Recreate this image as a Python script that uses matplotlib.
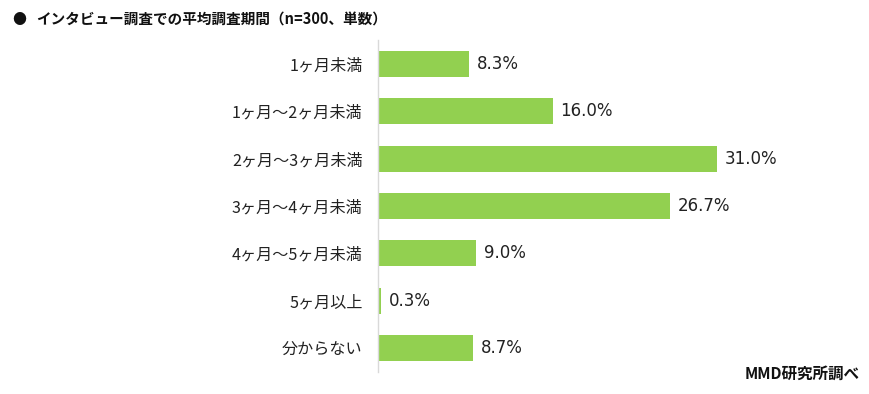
import matplotlib
matplotlib.use('Agg')
import matplotlib.pyplot as plt

plt.rcParams['font.family'] = ['Noto Sans CJK JP', 'DejaVu Sans']

categories = ['1ヶ月未満', '1ヶ月〜2ヶ月未満', '2ヶ月〜3ヶ月未満', '3ヶ月〜4ヶ月未満',
              '4ヶ月〜5ヶ月未満', '5ヶ月以上', '分からない']
values = [8.3, 16.0, 31.0, 26.7, 9.0, 0.3, 8.7]

fig = plt.figure(figsize=(8.7, 3.94), dpi=100)
ax = fig.add_axes([378 / 870, 1 - 372 / 394, 492 / 870, 332 / 394])

pos = list(range(len(categories)))
ax.barh(pos, values, height=0.55, color='#92D050')
ax.set_ylim(len(categories) - 0.5, -0.5)
ax.set_xlim(0, 45)

# value labels, digits look like a Verdana-style face in the source
for p, v in zip(pos, values):
    ax.text(v + 0.7, p, f'{v:.1f}%', va='center', ha='left',
            fontsize=12, family='DejaVu Sans', color='#222222')

ax.set_yticks(pos)
ax.set_yticklabels(categories, fontsize=11.6, color='#222222')
ax.tick_params(axis='y', length=0, pad=11)
ax.set_xticks([])
for s in ['top', 'right', 'bottom']:
    ax.spines[s].set_visible(False)
ax.spines['left'].set_color('#d9d9d9')
ax.spines['left'].set_linewidth(1)

fig.text(12 / 870, 1 - 20 / 394, '●', fontsize=10, va='center', ha='left', color='#111111')
fig.text(36 / 870, 1 - 20 / 394, 'インタビュー調査での平均調査期間（n=300、単数）',
         fontsize=10.5, fontweight='bold', va='center', ha='left', color='#111111')
fig.text(860 / 870, 1 - 374 / 394, 'MMD研究所調べ', fontsize=11.2, fontweight='bold',
         va='center', ha='right', color='#111111')

fig.savefig('out.png', dpi=100)
